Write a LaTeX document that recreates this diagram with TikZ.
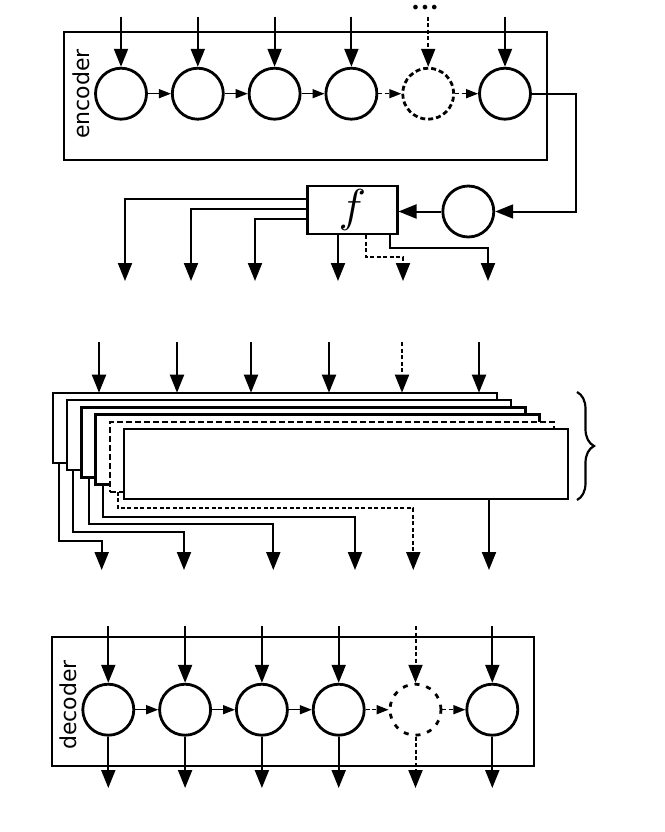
\documentclass[tikz,border=0pt]{standalone}
\usepackage{fontspec}
\setmainfont{DejaVu Sans}
\usetikzlibrary{arrows.meta, positioning, calc, decorations.pathreplacing}

\begin{document}
\begin{tikzpicture}[
    x=1pt, y=-1pt,
    node distance=23pt,
    every node/.style={font=\fontsize{22}{26}\selectfont, inner sep=0pt},
    dashed/.style={dash pattern=on 4pt off 2.5pt},
    cell/.style={circle, draw, line width=2.8pt, minimum size=51pt},
    ghostcell/.style={cell, dash pattern=on 5pt off 3pt},
    blockframe/.style={rectangle, draw, line width=2.2pt, outer sep=0pt, anchor=north west},
    layerbox/.style={rectangle, draw, fill=white, line width=2.4pt, outer sep=0pt, minimum width=444pt, minimum height=70pt, anchor=north west},
    funcbox/.style={rectangle, draw, line width=2.4pt, minimum width=90pt, minimum height=48pt, font=\fontsize{10}{12}\selectfont},
    arrow/.style={-{Triangle[length=18pt,width=14pt]}, line width=2pt},
    link/.style={-{Triangle[length=12pt,width=9pt]}, line width=1.5pt}
  ]
    \useasboundingbox (0,0) rectangle (664,832);

    % Encoder
    \node[blockframe, minimum width=483pt, minimum height=128pt] (enc) at (64,32) {};
    \node[rotate=90] (enclabel) at (81,94) {encoder};
    \node[cell] (e1) at (121,93.7) {};
    \node[cell, right=of e1] (e2) {};
    \node[cell, right=of e2] (e3) {};
    \node[cell, right=of e3] (e4) {};
    \node[ghostcell, right=of e4] (e5) {};
    \node[cell, right=of e5] (e6) {};
    \node[font=\fontsize{16}{16}\selectfont] (dots) at (425,9) {•••};
    \coordinate (ein) at (0,16.7);

    \draw[arrow] (e1 |- ein) -- (e1);
    \draw[arrow] (e2 |- ein) -- (e2);
    \draw[arrow] (e3 |- ein) -- (e3);
    \draw[arrow] (e4 |- ein) -- (e4);
    \draw[arrow, dashed] (e5 |- ein) -- (e5);
    \draw[arrow] (e6 |- ein) -- (e6);
    \draw[link] (e1) -- (e2);
    \draw[link] (e2) -- (e3);
    \draw[link] (e3) -- (e4);
    \draw[link, dashed] (e4) -- (e5);
    \draw[link, dashed] (e5) -- (e6);

    % Hidden state and f
    \node[cell] (hc) at (468.3,211.5) {};
    \node[funcbox] (f) at (352.3,210) {\scalebox{4.6}{$f$}};
    \coordinate (bend) at (575.7,0);
    \draw[arrow] (e6) -- (e6 -| bend) |- (hc);
    \draw[arrow] (hc) -- (hc -| f.east);

    \coordinate (fo1) at (125,281);
    \coordinate (fo2) at (191,281);
    \coordinate (fo3) at (255,281);
    \coordinate (fo4) at (338,281);
    \coordinate (fo5) at (403,281);
    \coordinate (fo6) at (488,281);
    \draw[arrow] ([yshift=10.7pt]f.west) -| (fo1);
    \draw[arrow] ([yshift=0.7pt]f.west) -| (fo2);
    \draw[arrow] ([yshift=-9.3pt]f.west) -| (fo3);
    \draw[arrow] (f.south -| fo4) -- (fo4);
    \draw[arrow, dashed] ([xshift=13.7pt]f.south) -- ++(0,22) -| (fo5);
    \draw[arrow] ([xshift=38pt]f.south) -- ++(0,13) -| (fo6);

    % Stacked layers
    \node[layerbox] (s1) at (52.7,392.7) {};
    \node[layerbox, below right=7.3pt and 14.3pt of s1.north west] (s2) {};
    \node[layerbox, below right=7.3pt and 14.3pt of s2.north west] (s3) {};
    \node[layerbox, below right=7.3pt and 14.3pt of s3.north west] (s4) {};
    \node[layerbox, dash pattern=on 6pt off 3pt, below right=7.3pt and 14.3pt of s4.north west] (s5) {};
    \node[layerbox, below right=7.3pt and 14.3pt of s5.north west] (s6) {};
    \draw[line width=2.2pt, decorate, decoration={brace, amplitude=17pt}] (577,392) -- (577,500);

    \coordinate (mi1) at (99,342);
    \coordinate (mi2) at (177,342);
    \coordinate (mi3) at (251,342);
    \coordinate (mi4) at (329,342);
    \coordinate (mi5) at (402,342);
    \coordinate (mi6) at (479,342);
    \draw[arrow] (mi1) -- (mi1 |- s1.north);
    \draw[arrow] (mi2) -- (mi2 |- s1.north);
    \draw[arrow] (mi3) -- (mi3 |- s1.north);
    \draw[arrow] (mi4) -- (mi4 |- s1.north);
    \draw[arrow, dashed] (mi5) -- (mi5 |- s1.north);
    \draw[arrow] (mi6) -- (mi6 |- s1.north);

    \coordinate (mo1) at (101.7,570);
    \coordinate (mo2) at (184,570);
    \coordinate (mo3) at (273.3,570);
    \coordinate (mo4) at (355,570);
    \coordinate (mo5) at (413.3,570);
    \coordinate (mo6) at (489,570);
    \draw[arrow] ([xshift=6.6pt]s1.south west) -- ++(0,78) -| (mo1);
    \draw[arrow] ([xshift=6.3pt]s2.south west) -- ++(0,61.7) -| (mo2);
    \draw[arrow] ([xshift=8pt]s3.south west) -- ++(0,47) -| (mo3);
    \draw[arrow] ([xshift=7.1pt]s4.south west) -- ++(0,32) -| (mo4);
    \draw[arrow, dashed] ([xshift=7.8pt]s5.south west) -- ++(0,16.4) -| (mo5);
    \draw[arrow] (s6.south -| mo6) -- (mo6);

    % Decoder
    \node[blockframe, minimum width=482.6pt, minimum height=128.4pt] (dec) at (51.7,637.3) {};
    \node[rotate=90] (declabel) at (68,705) {decoder};
    \node[cell] (d1) at (108.3,709.7) {};
    \node[cell, right=of d1] (d2) {};
    \node[cell, right=of d2] (d3) {};
    \node[cell, right=of d3] (d4) {};
    \node[ghostcell, dash pattern=on 5pt off 7pt, right=of d4] (d5) {};
    \node[cell, right=of d5] (d6) {};
    \coordinate (din) at (0,626);
    \coordinate (dout) at (0,788);

    \draw[arrow] (d1 |- din) -- (d1);
    \draw[arrow] (d2 |- din) -- (d2);
    \draw[arrow] (d3 |- din) -- (d3);
    \draw[arrow] (d4 |- din) -- (d4);
    \draw[arrow, dashed] (d5 |- din) -- (d5);
    \draw[arrow] (d6 |- din) -- (d6);
    \draw[link] (d1) -- (d2);
    \draw[link] (d2) -- (d3);
    \draw[link] (d3) -- (d4);
    \draw[link, dashed] (d4) -- (d5);
    \draw[link, dashed] (d5) -- (d6);
    \draw[arrow] (d1) -- (d1 |- dout);
    \draw[arrow] (d2) -- (d2 |- dout);
    \draw[arrow] (d3) -- (d3 |- dout);
    \draw[arrow] (d4) -- (d4 |- dout);
    \draw[arrow, dashed] (d5) -- (d5 |- dout);
    \draw[arrow] (d6) -- (d6 |- dout);
\end{tikzpicture}
\end{document}
